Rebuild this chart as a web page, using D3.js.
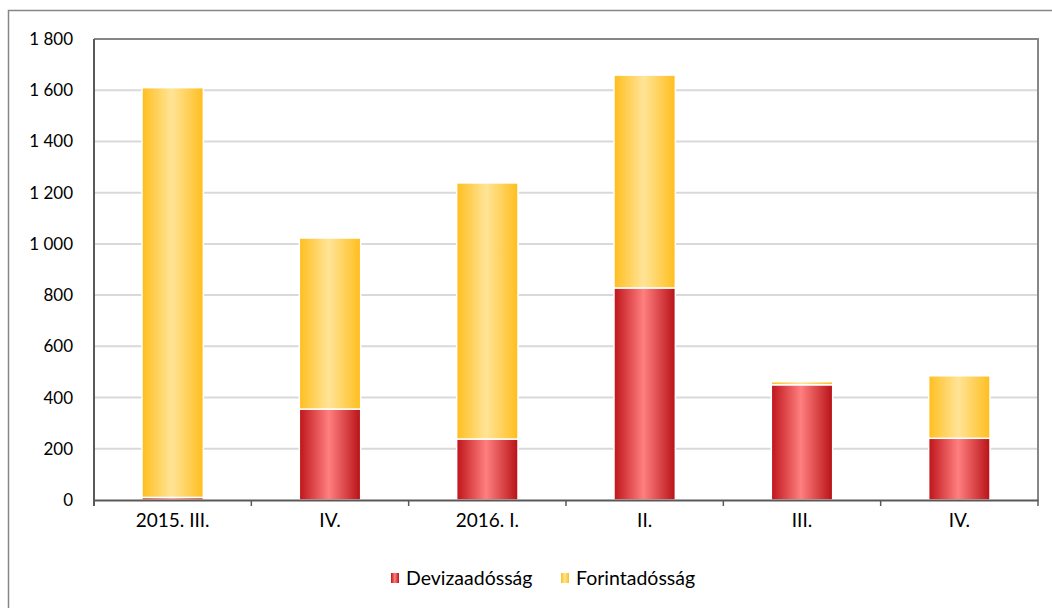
<!DOCTYPE html>
<html>
<head>
<meta charset="utf-8">
<script src="https://cdn.jsdelivr.net/npm/d3@7"></script>
<style>
  body { margin: 0; background: #fff; }
  text { font-family: Lato, "Open Sans", sans-serif; fill: #000; }
</style>
</head>
<body>
<div id="chart"></div>
<script>
let categories = ["2015. III.", "IV.", "2016. I.", "II.", "III.", "IV."];
let deviza = [10, 355, 238, 828, 450, 241];
let forint = [1600, 668, 1000, 831, 12, 244];
let yTicks = [0, 200, 400, 600, 800, 1000, 1200, 1400, 1600, 1800];
let seriesNames = ["Devizaadósság", "Forintadósság"];

let width = 1052, height = 608;
let margin = {top: 39, right: 14, bottom: 108, left: 94};

let svg = d3.select("#chart").append("svg")
    .attr("width", width)
    .attr("height", height);

// outer chart frame
svg.append("rect")
    .attr("x", 8.5).attr("y", 10.5)
    .attr("width", 1100).attr("height", 700)
    .attr("fill", "none")
    .attr("stroke", "#868686")
    .attr("stroke-width", 1.5);

let defs = svg.append("defs");
function grad(id, edge, mid, edge2) {
    let g = defs.append("linearGradient").attr("id", id)
        .attr("x1", "0%").attr("x2", "100%").attr("y1", "0%").attr("y2", "0%");
    g.append("stop").attr("offset", "0%").attr("stop-color", edge);
    g.append("stop").attr("offset", "48%").attr("stop-color", mid);
    g.append("stop").attr("offset", "100%").attr("stop-color", edge2);
}
grad("gRed", "#BE1419", "#FF7F7F", "#B81217");
grad("gYel", "#FFBE1E", "#FFE497", "#FFBE1E");

let idx = d3.range(categories.length);
let x = d3.scaleBand()
    .domain(idx)
    .range([margin.left, width - margin.right])
    .paddingInner(0.61)
    .paddingOuter(0.305);

let y = d3.scaleLinear()
    .domain([0, 1800])
    .range([height - margin.bottom, margin.top]);

// gridlines
svg.append("g").selectAll("line")
    .data(yTicks.filter(d => d > 0))
    .enter().append("line")
    .attr("x1", margin.left).attr("x2", width - margin.right)
    .attr("y1", d => y(d)).attr("y2", d => y(d))
    .attr("stroke", "#D9D9D9")
    .attr("stroke-width", 2);

// plot frame top/right
svg.append("path")
    .attr("d", `M${margin.left},${margin.top}H${width - margin.right}V${height - margin.bottom + 6}`)
    .attr("fill", "none")
    .attr("stroke", "#868686")
    .attr("stroke-width", 2);

let stackData = d3.stack().keys([0, 1])(idx.map(i => ({i: i, 0: deviza[i], 1: forint[i]})));
let fills = ["url(#gRed)", "url(#gYel)"];

stackData.forEach(function(layer, k) {
    svg.append("g").selectAll("rect")
        .data(layer)
        .enter().append("rect")
        .attr("x", d => x(d.data.i))
        .attr("width", x.bandwidth())
        .attr("y", d => y(d[1]))
        .attr("height", d => y(d[0]) - y(d[1]))
        .attr("fill", fills[k])
        .attr("stroke", "#fff")
        .attr("stroke-width", 1.5);
});

// y axis
let yAxis = svg.append("g")
    .attr("transform", `translate(${margin.left},0)`)
    .call(d3.axisLeft(y).tickValues(yTicks).tickSize(0).tickPadding(21)
        .tickFormat(d => d3.format(",")(d).replace(",", " ")));
yAxis.select(".domain").attr("stroke", "#595959").attr("stroke-width", 2)
    .attr("d", `M0,${margin.top}V${height - margin.bottom + 6}`);
yAxis.selectAll("text").style("font-size", "17px").style("font-family", "Lato, sans-serif");

// x axis
let xAxis = svg.append("g")
    .attr("transform", `translate(0,${height - margin.bottom})`)
    .call(d3.axisBottom(x).tickSize(0).tickPadding(14).tickFormat(i => categories[i]));
xAxis.select(".domain").attr("stroke", "#595959").attr("stroke-width", 2);
xAxis.selectAll("text").style("font-size", "19px").style("font-family", "Lato, sans-serif");

let step = x.step();
svg.append("g").selectAll("line")
    .data(d3.range(1, categories.length))
    .enter().append("line")
    .attr("x1", i => x(i) - x.paddingInner() * step / 2)
    .attr("x2", i => x(i) - x.paddingInner() * step / 2)
    .attr("y1", height - margin.bottom)
    .attr("y2", height - margin.bottom + 6)
    .attr("stroke", "#595959")
    .attr("stroke-width", 1.5);

// legend
let legend = svg.append("g");
let legendX = [391, 561];
seriesNames.forEach(function(name, i) {
    let g = legend.append("g").attr("transform", `translate(${legendX[i]},573)`);
    g.append("rect").attr("width", 8).attr("height", 10).attr("fill", fills[i]);
    g.append("text").attr("x", 15).attr("y", 12)
        .style("font-size", "19.5px")
        .text(name);
});
</script>
</body>
</html>
